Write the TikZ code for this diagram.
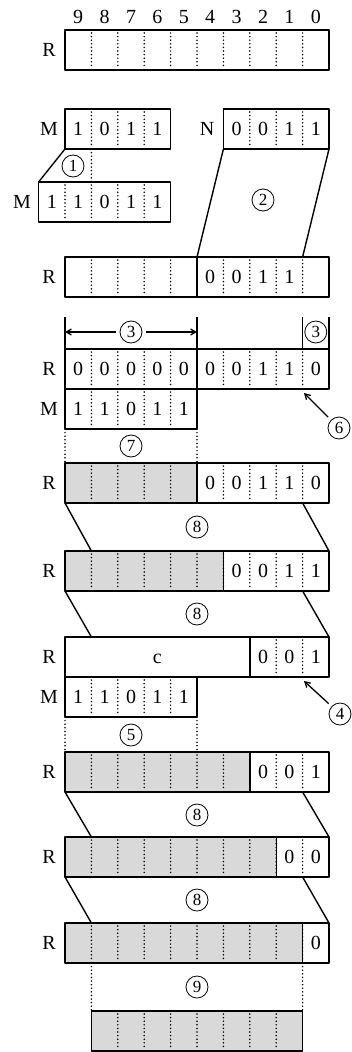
\documentclass[tikz,border=0pt]{standalone}
\usepackage{fontspec}
\setmainfont{Liberation Serif}
\usepackage{tikz}
\usetikzlibrary{calc}
\usetikzlibrary{arrows}

\tikzset{
  regbox/.style={line width=1.4pt},
  thickbox/.style={line width=2.6pt},
  cellsep/.style={line width=1.7pt, line cap=round, dash pattern=on 0pt off 3.6pt},
  shaded/.style={fill=black!15},
  bit/.style={inner sep=0pt, text height=13pt, text depth=0pt, font=\fontsize{20}{23}\selectfont},
  stepno/.style={circle, draw, line width=0.8pt, minimum size=22pt, inner sep=0pt, font=\fontsize{17}{19}\selectfont},
  arr/.style={->, >=angle 60, line width=1.3pt, shorten <=4pt},
}

\begin{document}
\begin{tikzpicture}[x=1pt,y=-1pt,line join=round]
  % Constants
  \pgfmathsetmacro\w{26.4}
  \pgfmathsetmacro\h{40}
  \pgfmathsetmacro\l{65}
  % Boundary
  \path[use as bounding box] (0,0) rectangle (351,1052);
  % Register R and bit numbers
  \begin{scope}[shift={(0,30)}]
    \draw[regbox] (\l,0) rectangle (\l+10*\w,\h);
    \foreach \i in {1,...,9} \draw[cellsep] (\l+\i*\w,3) -- (\l+\i*\w,\h-3);
    \foreach \i in {0,...,9} \node[bit] (num\i) at ({\l+(9.5-\i)*\w},-13) {\i};
    \node[bit] (rA) at (49,\h/2) {R};
  \end{scope}
  % M and N
  \begin{scope}[shift={(0,109)}]
    \draw[regbox] (\l,0) rectangle (\l+4*\w,\h);
    \foreach \i in {1,2,3} \draw[cellsep] (\l+\i*\w,3) -- (\l+\i*\w,\h-3);
    \foreach \d [count=\i] in {1,0,1,1} \node[bit] (mA\i) at ({\l+(\i-0.5)*\w},\h/2) {\d};
    \node[bit] (mA) at (49,\h/2) {M};
    \draw[regbox] (\l+6*\w,0) rectangle (\l+10*\w,\h);
    \foreach \i in {7,8,9} \draw[cellsep] (\l+\i*\w,3) -- (\l+\i*\w,\h-3);
    \foreach \d [count=\i] in {0,0,1,1} \node[bit] (nA\i) at ({\l+(\i+5.5)*\w},\h/2) {\d};
    \node[bit] (nA) at (207,\h/2) {N};
    \coordinate (mAsw) at (\l,\h);
    \coordinate (mAcut) at (\l+\w,\h);
    \coordinate (nAsw) at (\l+6*\w,\h);
    \coordinate (nAse) at (\l+10*\w,\h);
  \end{scope}
  % M with sign bit
  \begin{scope}[shift={(0,182)}]
    \draw[regbox] (\l-\w,0) rectangle (\l+4*\w,\h);
    \foreach \i in {0,...,3} \draw[cellsep] (\l+\i*\w,3) -- (\l+\i*\w,\h-3);
    \foreach \d [count=\i] in {1,1,0,1,1} \node[bit] (mB\i) at ({\l+(\i-1.5)*\w},\h/2) {\d};
    \node[bit] (mB) at (22,\h/2) {M};
    \coordinate (mBnw) at (\l-\w,0);
    \coordinate (mBcut) at (\l+\w,0);
  \end{scope}
  \draw[regbox] (mAsw) -- (mBnw);
  \draw[cellsep] (mAcut) -- (mBcut);
  \node[stepno] (s1) at (73,166) {1};
  % N moved into R
  \begin{scope}[shift={(0,257)}]
    \draw[regbox] (\l,0) rectangle (\l+10*\w,\h);
    \foreach \i in {1,2,3,4,6,7,8,9} \draw[cellsep] (\l+\i*\w,3) -- (\l+\i*\w,\h-3);
    \draw[regbox] (\l+5*\w,0) -- (\l+5*\w,\h);
    \foreach \d [count=\i] in {0,0,1,1} \node[bit] (rB\i) at ({\l+(\i+4.5)*\w},\h/2) {\d};
    \node[bit] (rB) at (49,\h/2) {R};
    \coordinate (rBa) at (\l+5*\w,0);
    \coordinate (rBb) at (\l+9*\w,0);
  \end{scope}
  \draw[regbox] (nAsw) -- (rBa);
  \draw[regbox] (nAse) -- (rBb);
  \node[stepno] (s2) at (263,200) {2};
  % Widths, R and M
  \begin{scope}[shift={(0,349)}]
    \draw[regbox] (\l,-32) -- (\l,0) (\l+5*\w,-32) -- (\l+5*\w,0);
    \draw[regbox] (\l+9*\w,-32) -- (\l+9*\w,0) (\l+10*\w,-32) -- (\l+10*\w,0);
    \coordinate (wl) at (\l,-17);
    \coordinate (wr) at (\l+5*\w,-17);
    \node[stepno] (s3a) at (\l+2.5*\w,-17) {3};
    \node[stepno] (s3b) at (\l+9.5*\w,-17) {3};
    \draw[arr] (s3a) -- (wl);
    \draw[arr] (s3a) -- (wr);
    \draw[regbox] (\l,0) rectangle (\l+10*\w,\h);
    \foreach \i in {1,...,9} \draw[cellsep] (\l+\i*\w,3) -- (\l+\i*\w,\h-3);
    \draw[regbox] (\l+5*\w,0) -- (\l+5*\w,\h);
    \foreach \d [count=\i] in {0,0,0,0,0,0,0,1,1,0} \node[bit] (rD\i) at ({\l+(\i-0.5)*\w},\h/2) {\d};
    \node[bit] (rD) at (49,\h/2) {R};
    \draw[thickbox] (\l+8*\w,\h) -- (\l+10*\w,\h);
    \coordinate (rDtip) at (304,\h+4);
    % M
    \draw[regbox] (\l,\h) rectangle (\l+5*\w,2*\h);
    \foreach \i in {1,...,4} \draw[cellsep] (\l+\i*\w,\h+3) -- (\l+\i*\w,2*\h-3);
    \foreach \d [count=\i] in {1,1,0,1,1} \node[bit] (mC\i) at ({\l+(\i-0.5)*\w},1.5*\h) {\d};
    \node[bit] (mC) at (49,1.5*\h) {M};
    \coordinate (mCsw) at (\l,2*\h);
    \coordinate (mCse) at (\l+5*\w,2*\h);
  \end{scope}
  \node[stepno] (s6) at (339,428) {6};
  \draw[arr] (s6) -- (rDtip);
  % Shifting rows
  \foreach \y/\k/\bits in {463/5/{0,0,1,1,0},551/6/{0,0,1,1},752/7/{0,0,1},837/8/{0,0},923/9/{0}} {
    \begin{scope}[shift={(0,\y)}]
      \fill[shaded] (\l,0) rectangle (\l+\k*\w,\h);
      \draw[regbox] (\l,0) rectangle (\l+10*\w,\h);
      \foreach \i in {1,...,9} \draw[cellsep] (\l+\i*\w,3) -- (\l+\i*\w,\h-3);
      \draw[regbox] (\l+\k*\w,0) -- (\l+\k*\w,\h);
      \foreach \d [count=\i] in \bits \node[bit] (row\k-\i) at ({\l+(\k+\i-0.5)*\w},\h/2) {\d};
      \node[bit] (row\k) at (49,\h/2) {R};
      \coordinate (row\k-nw) at (\l,0);
      \coordinate (row\k-ne) at (\l+5*\w,0);
      \coordinate (row\k-a) at (\l+\w,0);
      \coordinate (row\k-b) at (\l+10*\w,0);
      \coordinate (row\k-c) at (\l,\h);
      \coordinate (row\k-d) at (\l+9*\w,\h);
    \end{scope}
  }
  \draw[thickbox] ($(row6-d)+(-\w,0)$) -- ($(row6-d)+(\w,0)$);
  % Carry c
  \begin{scope}[shift={(0,637)}]
    \draw[regbox] (\l+7*\w,0) rectangle (\l+10*\w,\h);
    \foreach \i in {8,9} \draw[cellsep] (\l+\i*\w,3) -- (\l+\i*\w,\h-3);
    \foreach \d [count=\i] in {0,0,1} \node[bit] (rC\i) at ({\l+(\i+6.5)*\w},\h/2) {\d};
    \draw[thickbox] (\l,0) rectangle (\l+7*\w,\h);
    \node[bit] (rCc) at (\l+3.5*\w,\h/2) {c};
    \draw[thickbox] (\l+8*\w,\h) -- (\l+10*\w,\h);
    \node[bit] (rC) at (49,\h/2) {R};
    \coordinate (rCa) at (\l+\w,0);
    \coordinate (rCb) at (\l+10*\w,0);
    \coordinate (rCtip) at (304,\h+4);
    % M
    \draw[regbox] (\l,\h) rectangle (\l+5*\w,2*\h);
    \foreach \i in {1,...,4} \draw[cellsep] (\l+\i*\w,\h+3) -- (\l+\i*\w,2*\h-3);
    \foreach \d [count=\i] in {1,1,0,1,1} \node[bit] (mD\i) at ({\l+(\i-0.5)*\w},1.5*\h) {\d};
    \node[bit] (mD) at (49,1.5*\h) {M};
    \coordinate (mDsw) at (\l,2*\h);
    \coordinate (mDse) at (\l+5*\w,2*\h);
  \end{scope}
  \node[stepno] (s4) at (340,714) {4};
  \draw[arr] (s4) -- (rCtip);
  % Steps between rows
  \draw[cellsep] (mCsw) -- (row5-nw) (mCse) -- (row5-ne);
  \node[stepno] (s7) at (\l+2.5*\w,446) {7};
  \draw[regbox] (row5-c) -- (row6-a) (row5-d) -- (row6-b);
  \node[stepno] (s8a) at (\l+5*\w,527) {8};
  \draw[regbox] (row6-c) -- (rCa) (row6-d) -- (rCb);
  \node[stepno] (s8b) at (\l+5*\w,614) {8};
  \draw[cellsep] (mDsw) -- (row7-nw) (mDse) -- (row7-ne);
  \node[stepno] (s5) at (\l+2.5*\w,735) {5};
  \draw[regbox] (row7-c) -- (row8-a) (row7-d) -- (row8-b);
  \node[stepno] (s8c) at (\l+5*\w,815) {8};
  \draw[regbox] (row8-c) -- (row9-a) (row8-d) -- (row9-b);
  \node[stepno] (s8d) at (\l+5*\w,900) {8};
  % Result
  \begin{scope}[shift={(0,1011)}]
    \fill[shaded] (\l+\w,0) rectangle (\l+9*\w,\h);
    \draw[regbox] (\l+\w,0) rectangle (\l+9*\w,\h);
    \foreach \i in {2,...,8} \draw[cellsep] (\l+\i*\w,3) -- (\l+\i*\w,\h-3);
    \coordinate (resnw) at (\l+\w,0);
    \coordinate (resne) at (\l+9*\w,0);
  \end{scope}
  \draw[cellsep] ($(row9-c)+(\w,0)$) -- (resnw) (row9-d) -- (resne);
  \node[stepno] (s9) at (\l+5*\w,987) {9};
\end{tikzpicture}
\end{document}
